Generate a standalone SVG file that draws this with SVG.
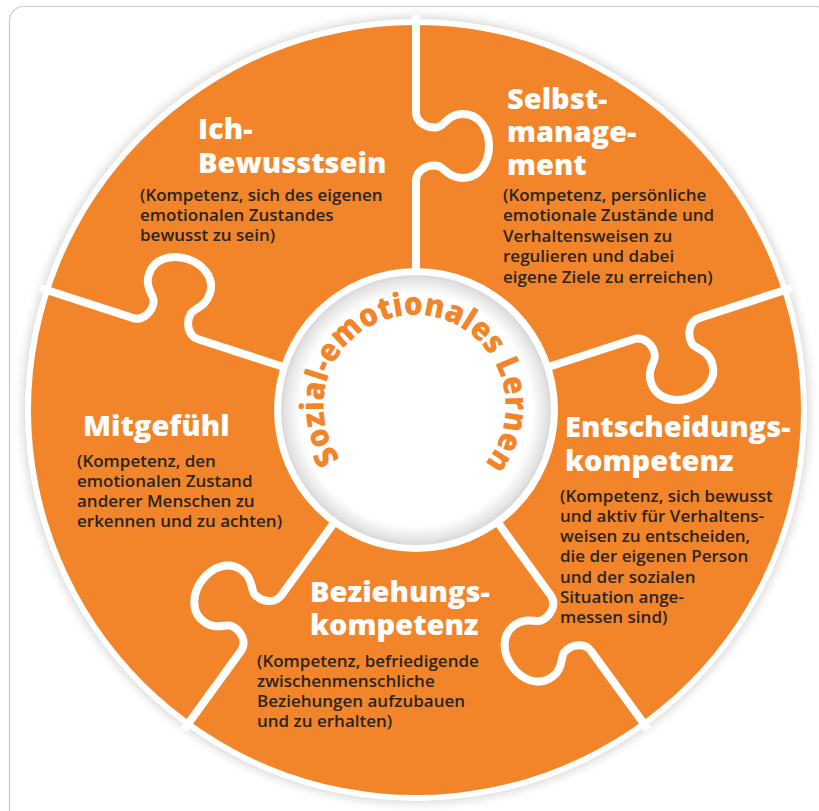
<svg xmlns="http://www.w3.org/2000/svg" width="819" height="811" viewBox="0 0 819 811">
  <defs>
    <radialGradient id="outerShadow" cx="416" cy="410" r="404" gradientUnits="userSpaceOnUse">
      <stop offset="0.955" stop-color="#9a9a9a" stop-opacity="0.55"/>
      <stop offset="1" stop-color="#ffffff" stop-opacity="0"/>
    </radialGradient>
    <radialGradient id="innerFace" cx="416" cy="410" r="135" gradientUnits="userSpaceOnUse">
      <stop offset="0.86" stop-color="#ffffff"/>
      <stop offset="0.96" stop-color="#e6e6e6"/>
      <stop offset="1" stop-color="#d8d8d8"/>
    </radialGradient>
    <path id="sep" d="M 0 -395 L 0 -298 C 0 -287, 12 -281, 22 -283 C 28 -284, 32 -296, 47 -296 C 63 -296, 73 -281, 73 -264 C 73 -247, 63 -232, 47 -232 C 32 -232, 28 -243, 22 -244 C 12 -246, 0 -240, 0 -229 L 0 -135"/>
    <path id="arcText" d="M 340.3 458.6 A 91 91 0 1 1 486.2 462"/>
  </defs>
  <style>
    .title { font-family: "Open Sans", "Noto Sans", "DejaVu Sans", sans-serif; font-weight: 800; font-size: 29px; fill: #ffffff; }
    .body { font-family: "Open Sans", "Noto Sans", "DejaVu Sans", sans-serif; font-weight: 600; font-size: 17px; fill: #2a2420; }
    .sepline { fill: none; stroke: #ffffff; stroke-width: 8; stroke-linejoin: round; }
    .arc { font-family: "Open Sans", "Noto Sans", "DejaVu Sans", sans-serif; font-weight: 800; font-size: 32px; fill: #f2852a; }
  </style>

  <rect x="9.5" y="6.5" width="820" height="830" rx="14" ry="14" fill="#ffffff" stroke="#c9c9c9" stroke-width="1.2"/>

  <g id="disc">
    <circle cx="416" cy="410" r="404" fill="url(#outerShadow)"/>
    <circle cx="416" cy="410" r="391" fill="#ffffff"/>
    <circle cx="416" cy="410" r="385" fill="#f2852a"/>
  </g>

  <g id="connectors" transform="translate(416 410)">
    <use href="#sep" class="sepline"/>
    <use href="#sep" class="sepline" transform="rotate(72)"/>
    <use href="#sep" class="sepline" transform="rotate(144)"/>
    <use href="#sep" class="sepline" transform="rotate(216)"/>
    <use href="#sep" class="sepline" transform="rotate(288)"/>
  </g>

  <g id="center">
    <circle cx="416" cy="410" r="142" fill="#ffffff"/>
    <circle cx="416" cy="410" r="135" fill="url(#innerFace)"/>
    <text class="arc"><textPath href="#arcText" textLength="404" lengthAdjust="spacingAndGlyphs">Sozial-emotionales Lernen</textPath></text>
  </g>

  <g id="ich-bewusstsein">
    <text class="title" x="198" y="139">Ich-</text>
    <text class="title" x="198" y="173">Bewusstsein</text>
    <text class="body" x="140" y="201">(Kompetenz, sich des eigenen</text>
    <text class="body" x="140" y="221">emotionalen Zustandes</text>
    <text class="body" x="140" y="241">bewusst zu sein)</text>
  </g>

  <g id="selbstmanagement">
    <text class="title" x="507" y="109">Selbst-</text>
    <text class="title" x="507" y="142">manage-</text>
    <text class="title" x="507" y="175">ment</text>
    <text class="body" x="503" y="200.5">(Kompetenz, persönliche</text>
    <text class="body" x="503" y="221">emotionale Zustände und</text>
    <text class="body" x="503" y="241.5">Verhaltensweisen zu</text>
    <text class="body" x="503" y="262">regulieren und dabei</text>
    <text class="body" x="503" y="282.5">eigene Ziele zu erreichen)</text>
  </g>

  <g id="mitgefuehl">
    <text class="title" x="83" y="436">Mitgefühl</text>
    <text class="body" x="77" y="467">(Kompetenz, den</text>
    <text class="body" x="77" y="487">emotionalen Zustand</text>
    <text class="body" x="77" y="507">anderer Menschen zu</text>
    <text class="body" x="77" y="527">erkennen und zu achten)</text>
  </g>

  <g id="entscheidungskompetenz">
    <text class="title" x="565" y="437">Entscheidungs-</text>
    <text class="title" x="565" y="471">kompetenz</text>
    <text class="body" x="560" y="502">(Kompetenz, sich bewusst</text>
    <text class="body" x="560" y="522">und aktiv für Verhaltens-</text>
    <text class="body" x="560" y="542">weisen zu entscheiden,</text>
    <text class="body" x="560" y="562">die der eigenen Person</text>
    <text class="body" x="560" y="582.5">und der sozialen</text>
    <text class="body" x="560" y="603">Situation ange-</text>
    <text class="body" x="560" y="623">messen sind)</text>
  </g>

  <g id="beziehungskompetenz">
    <text class="title" x="310" y="602">Beziehungs-</text>
    <text class="title" x="310" y="635">kompetenz</text>
    <text class="body" x="257" y="667">(Kompetenz, befriedigende</text>
    <text class="body" x="257" y="687">zwischenmenschliche</text>
    <text class="body" x="257" y="707">Beziehungen aufzubauen</text>
    <text class="body" x="257" y="727">und zu erhalten)</text>
  </g>
</svg>
